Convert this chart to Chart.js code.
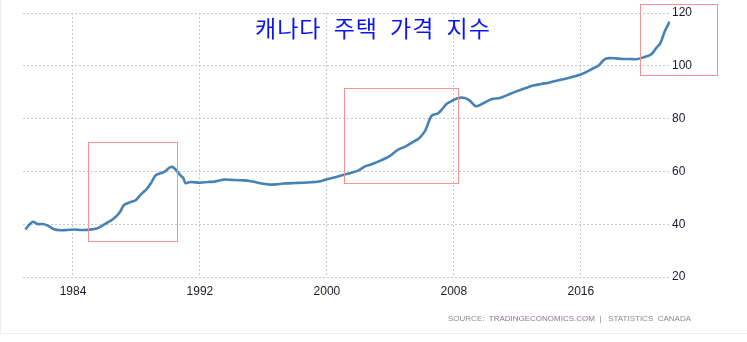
<!DOCTYPE html>
<html>
<head>
<meta charset="utf-8">
<script src="https://cdn.jsdelivr.net/npm/chart.js@4.4.0/dist/chart.umd.min.js"></script>
<style>
    html, body { margin: 0; padding: 0; background: #fff; }
    #wrap { position: relative; width: 747px; height: 342px; overflow: hidden; }
    #frame { position: absolute; left: 0; top: 0; width: 747px; height: 333px; border-left: 1px solid #ececec; border-bottom: 1px solid #ececec; }
    canvas { position: absolute; left: 0; top: 0; }
    #title {
        position: absolute; left: 255px; top: 12px;
        font-family: "Noto Sans CJK KR", sans-serif; font-size: 23px; line-height: 30px;
        color: #0a14f0; white-space: pre; letter-spacing: 1px; word-spacing: 6px;
    }
    #source {
        position: absolute; left: 448px; top: 314px;
        font-family: "Liberation Sans", Arial, sans-serif; font-size: 8px; line-height: 10px;
        color: #8a8a8a; white-space: pre; letter-spacing: 0;
    }
    #source .te { color: #8c7390; }
</style>
</head>
<body>
<div id="wrap">
    <div id="frame"></div>
    <canvas id="hpi" width="747" height="342"></canvas>
    <div id="title">캐나다 주택 가격 지수</div>
    <div id="source">SOURCE:  <span class="te">TRADINGECONOMICS.COM</span>  |   STATISTICS  CANADA</div>
</div>
<script>
// index values (time in fractional years)
const years = [
    1981.0, 1981.45, 1981.76, 1982.18, 1982.5, 1982.8, 1983.2, 1983.6, 1984.06, 1984.5,
    1984.9, 1985.5, 1985.8, 1986.16, 1986.5, 1986.8, 1987.0, 1987.2, 1987.6, 1987.95,
    1988.36, 1988.6, 1988.9, 1989.2, 1989.5, 1989.72, 1990.14, 1990.35, 1990.77, 1990.95,
    1991.09, 1991.4, 1992.0, 1992.5, 1992.87, 1993.5, 1994.0, 1994.75, 1995.2, 1995.6,
    1996.0, 1996.4, 1996.8, 1997.27, 1998.0, 1998.5, 1999.0, 1999.6, 2000.0, 2000.4,
    2001.0, 2001.5, 2002.0, 2002.4, 2002.8, 2003.15, 2003.6, 2004.0, 2004.5, 2004.9,
    2005.24, 2005.76, 2006.0, 2006.2, 2006.4, 2006.6, 2007.0, 2007.25, 2007.55, 2007.9,
    2008.28, 2008.7, 2009.0, 2009.4, 2009.85, 2010.4, 2010.9, 2011.4, 2011.95, 2012.5,
    2013.0, 2013.5, 2014.05, 2014.6, 2015.1, 2015.6, 2016.15, 2016.7, 2017.1, 2017.5,
    2017.8, 2018.2, 2018.65, 2019.1, 2019.5, 2019.9, 2020.45, 2020.77, 2021.0, 2021.3,
    2021.6
];
const hpi = [
    38.0, 40.9, 40.1, 40.0, 39.2, 38.1, 37.7, 37.8, 38.0, 37.8,
    37.85, 38.4, 39.3, 40.6, 41.8, 43.4, 45.0, 47.2, 48.3, 49.1,
    51.8, 53.0, 55.4, 58.5, 59.3, 59.7, 61.6, 61.4, 58.5, 57.5,
    55.6, 56.0, 55.7, 56.0, 56.1, 56.9, 56.8, 56.6, 56.3, 55.8,
    55.3, 55.0, 55.1, 55.4, 55.6, 55.7, 55.9, 56.3, 57.0, 57.6,
    58.6, 59.4, 60.4, 61.9, 62.6, 63.5, 64.7, 66.0, 68.3, 69.3,
    70.5, 72.3, 73.8, 75.5, 78.5, 81.1, 82.0, 83.5, 85.6, 86.8,
    87.8, 87.8, 86.8, 84.7, 85.8, 87.4, 87.8, 89.0, 90.3, 91.5,
    92.5, 93.1, 93.7, 94.5, 95.2, 96.0, 97.1, 98.8, 100.0, 102.5,
    102.9, 102.8, 102.6, 102.6, 102.5, 103.1, 104.4, 106.9, 108.4, 113.2,
    116.7
];
const xTicks = [1984, 1992, 2000, 2008, 2016];
const yTicks = [20, 40, 60, 80, 100, 120];

// highlighted periods (red boxes), in data units
const boxFrom = [1984.94, 2001.1, 2019.7];
const boxTo = [1990.54, 2008.25, 2024.6];
const boxHigh = [71.3, 91.7, 123.3];
const boxLow = [33.6, 55.5, 96.6];

const tickFont = { family: "'Liberation Sans', Arial, sans-serif", size: 12 };

const boxPlugin = {
    id: "boxes",
    afterDraw(chart) {
        const { ctx, scales } = chart;
        ctx.save();
        ctx.strokeStyle = "#f39393";
        ctx.lineWidth = 1;
        boxFrom.forEach((from, i) => {
            const l = Math.round(scales.x.getPixelForValue(from)) + 0.5;
            const r = Math.round(scales.x.getPixelForValue(boxTo[i])) + 0.5;
            const t = Math.round(scales.y.getPixelForValue(boxHigh[i])) + 0.5;
            const b = Math.round(scales.y.getPixelForValue(boxLow[i])) + 0.5;
            ctx.strokeRect(l, t, r - l, b - t);
        });
        ctx.restore();
    }
};

new Chart(document.getElementById("hpi"), {
    type: "line",
    data: {
        datasets: [{
            data: years.map((yr, i) => ({ x: yr, y: hpi[i] })),
            borderColor: "#4682b4",
            borderWidth: 2.6,
            pointRadius: 0,
            tension: 0.3,
            fill: false
        }]
    },
    options: {
        responsive: false,
        animation: false,
        layout: { padding: { left: 23, top: 13, right: 0, bottom: 0 } },
        plugins: { legend: { display: false }, tooltip: { enabled: false } },
        scales: {
            x: {
                type: "linear",
                min: 1980.85,
                max: 2021.62,
                afterBuildTicks: scale => { scale.ticks = xTicks.map(v => ({ value: v })); },
                afterFit: scale => { scale.height = 65; },
                grid: { color: "#c8c8c8", drawTicks: false },
                border: { display: false, dash: [2, 2] },
                ticks: { color: "#1a1a2a", font: tickFont, padding: 7, maxRotation: 0, callback: v => String(v) }
            },
            y: {
                position: "right",
                min: 20,
                max: 120,
                afterBuildTicks: scale => { scale.ticks = yTicks.map(v => ({ value: v })); },
                afterFit: scale => { scale.width = 77; },
                grid: { color: "#c8c8c8", drawTicks: false },
                border: { display: false, dash: [2, 2] },
                ticks: { color: "#1a1a2a", font: tickFont, padding: 2, callback: v => String(v) }
            }
        }
    },
    plugins: [boxPlugin]
});
</script>
</body>
</html>
